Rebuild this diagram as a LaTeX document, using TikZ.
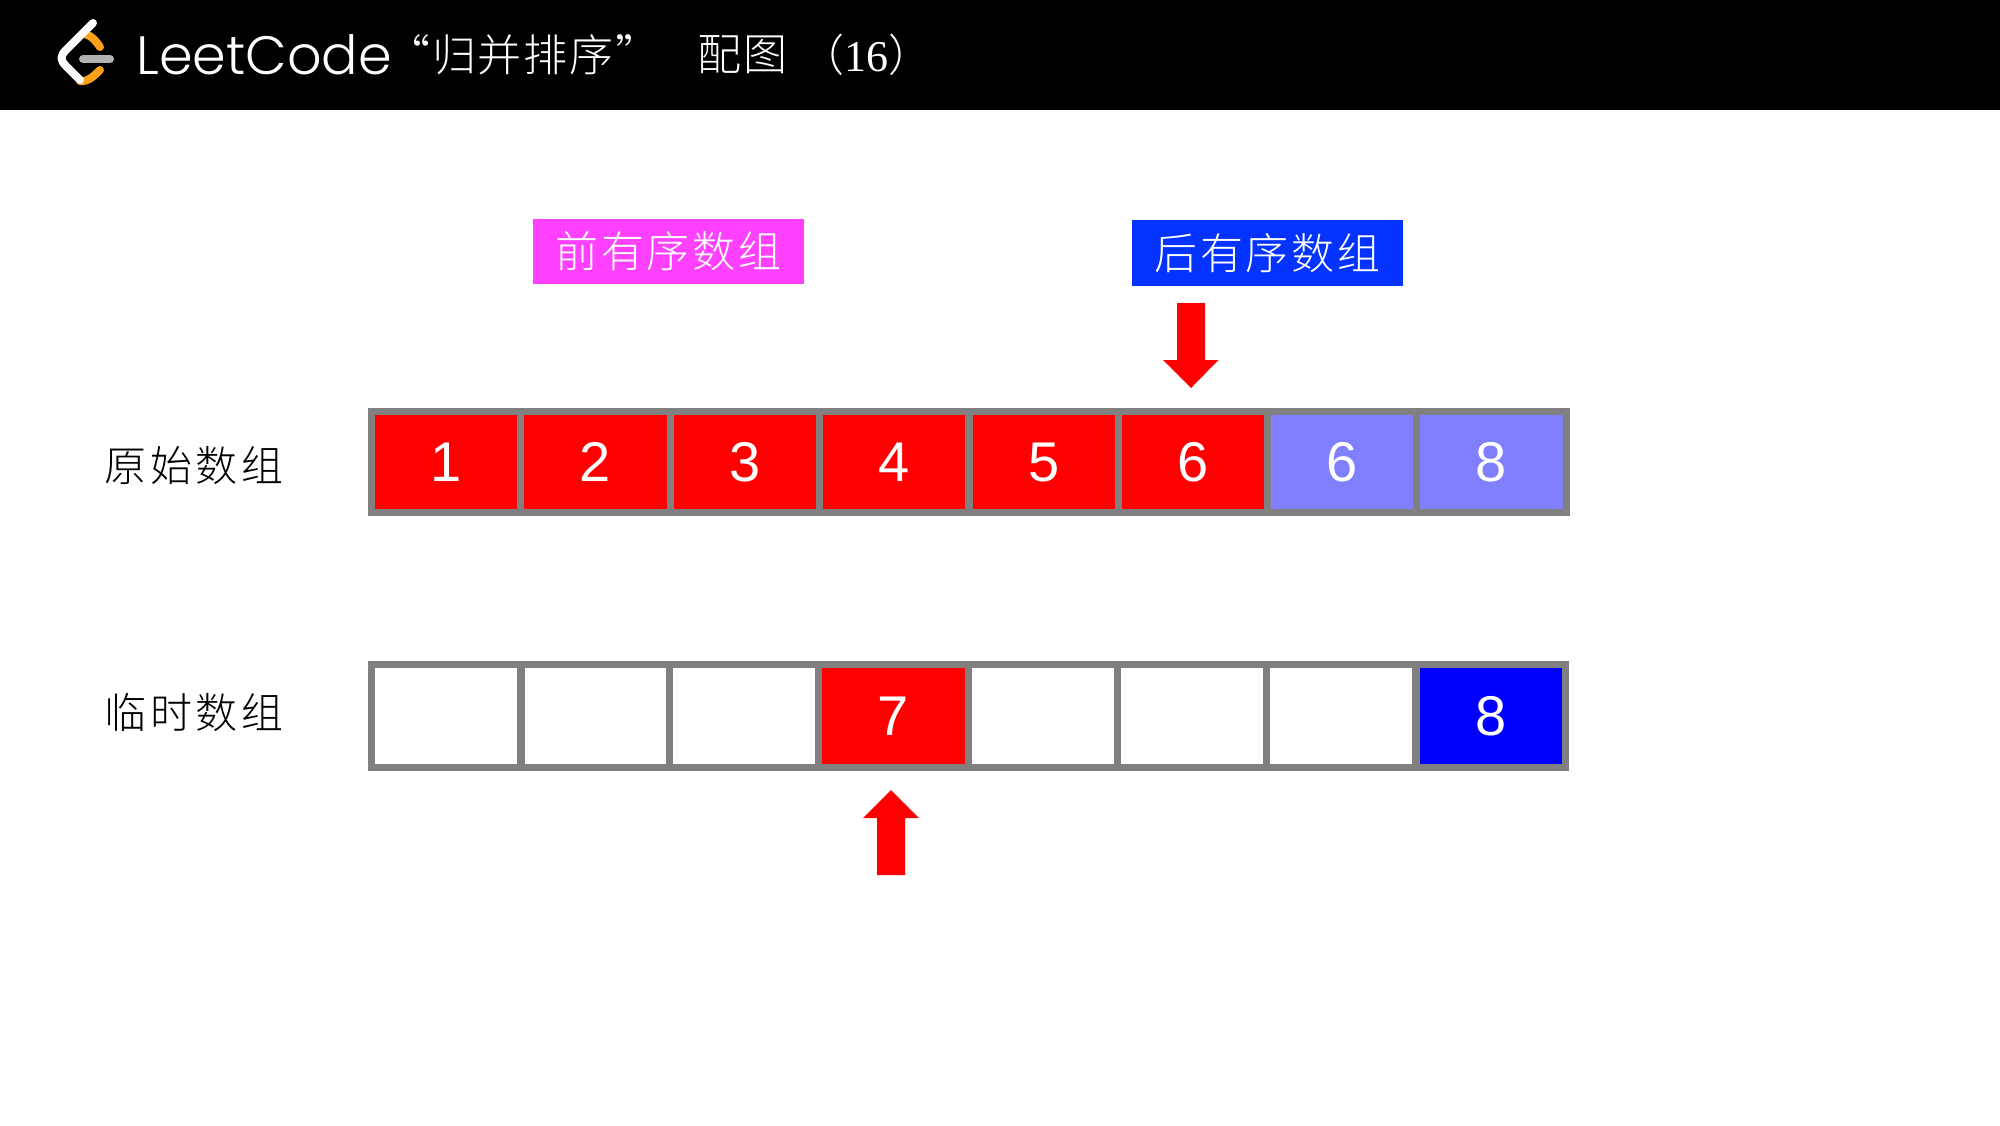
\documentclass[tikz,border=0pt]{standalone}
\usepackage{fontspec}
\setmainfont{Liberation Sans}
\newfontfamily\cjk{Noto Sans CJK SC Light}
\newfontfamily\lcfont{Poppins Light}
\newfontfamily\serifnum{Liberation Serif}
\definecolor{cellgray}{HTML}{808080}
\definecolor{lightblue}{HTML}{8080FF}
\definecolor{tagpink}{HTML}{FF40FF}
\definecolor{tagblue}{HTML}{0433FF}
\definecolor{pureblue}{HTML}{0000FF}
\definecolor{lcorange}{HTML}{FFA116}
\definecolor{lcgray}{HTML}{B3B3B3}
\tikzset{
  cell/.style={draw=cellgray,line width=3.5pt,minimum width=74.6pt,inner sep=0pt,outer sep=0pt,text=white,font=\fontsize{28}{28}\selectfont},
  toprow/.style={cell,minimum height=50.5pt},
  botrow/.style={cell,minimum height=51.75pt},
  rowlabel/.style={inner sep=0pt,font=\cjk\fontsize{21}{21}\selectfont\addfontfeature{LetterSpace=9}},
  tag/.style={inner sep=0pt,text=white,font=\cjk\fontsize{21.5}{22}\selectfont\addfontfeature{LetterSpace=6}},
  titletext/.style={inner sep=0pt,text=white,font=\cjk\fontsize{22}{22}\selectfont\addfontfeature{LetterSpace=4}},
  pointer/.style={fill=red,draw=none},
  logowhite/.style={draw=white,line width=4pt,line cap=round,line join=round},
  logoorange/.style={draw=lcorange,line width=4pt,line cap=round},
}
\begin{document}
\begin{tikzpicture}[x=.5pt,y=-.5pt]
\useasboundingbox (0,0) rectangle (2000,1125);
\fill[white] (0,0) rectangle (2000,1125);
\fill[black] (0,0) rectangle (2000,110);
% logo
\draw[logoorange] (85,34) .. controls (92,36) and (96,41) .. (100,47);
\draw[logoorange] (80,81) .. controls (88,82) and (94,76) .. (100,70);
\draw[logowhite] (93,23) -- (66,50) .. controls (60,56) and (60,60) .. (66,66) -- (80,80);
\draw[draw=lcgray,line width=4pt,line cap=round] (83,59) -- (110,59);
\node[inner sep=0pt,anchor=west,text=white,font=\lcfont\fontsize{27}{27}\selectfont] (brand) at (136,55) {LeetCode};
\node[titletext,anchor=west] (t1) at (386,55) {“归并排序”};
\node[titletext,anchor=west] (t2) at (697,55) {配图};
\node[titletext,anchor=west] (t3) at (800,55) {（{\serifnum 16}）};
% tags
\node[tag,fill=tagpink,minimum width=135.5pt,minimum height=32.5pt] (front) at (668.5,251.5) {前有序数组};
\node[tag,fill=tagblue,minimum width=135.5pt,minimum height=33pt] (back) at (1267.5,253) {后有序数组};
% row labels
\node[rowlabel] (orig) at (194,466) {原始数组};
\node[rowlabel] (temp) at (194,712) {临时数组};
% top row
\node[toprow,fill=red] (a1) at (446.5,462) {1};
\node[toprow,fill=red] (a2) at (595.5,462) {2};
\node[toprow,fill=red] (a3) at (745,462) {3};
\node[toprow,fill=red] (a4) at (894,462) {4};
\node[toprow,fill=red] (a5) at (1044,462) {5};
\node[toprow,fill=red] (a6) at (1193,462) {6};
\node[toprow,fill=lightblue] (a7) at (1342,462) {6};
\node[toprow,fill=lightblue] (a8) at (1491.5,462) {8};
% bottom row
\node[botrow] (b1) at (446.5,716) {};
\node[botrow] (b2) at (595,716) {};
\node[botrow] (b3) at (744.5,716) {};
\node[botrow,fill=red] (b4) at (893.5,716) {7};
\node[botrow] (b5) at (1043,716) {};
\node[botrow] (b6) at (1192,716) {};
\node[botrow] (b7) at (1341,716) {};
\node[botrow,fill=pureblue] (b8) at (1491,716) {8};
% pointers
\fill[pointer] (1177,303) -- (1205,303) -- (1205,360) -- (1218.5,360) -- (1191,388) -- (1163,360) -- (1177,360) -- cycle;
\fill[pointer] (877,875) -- (905,875) -- (905,818) -- (919,818) -- (891,790) -- (863,818) -- (877,818) -- cycle;
\end{tikzpicture}
\end{document}
